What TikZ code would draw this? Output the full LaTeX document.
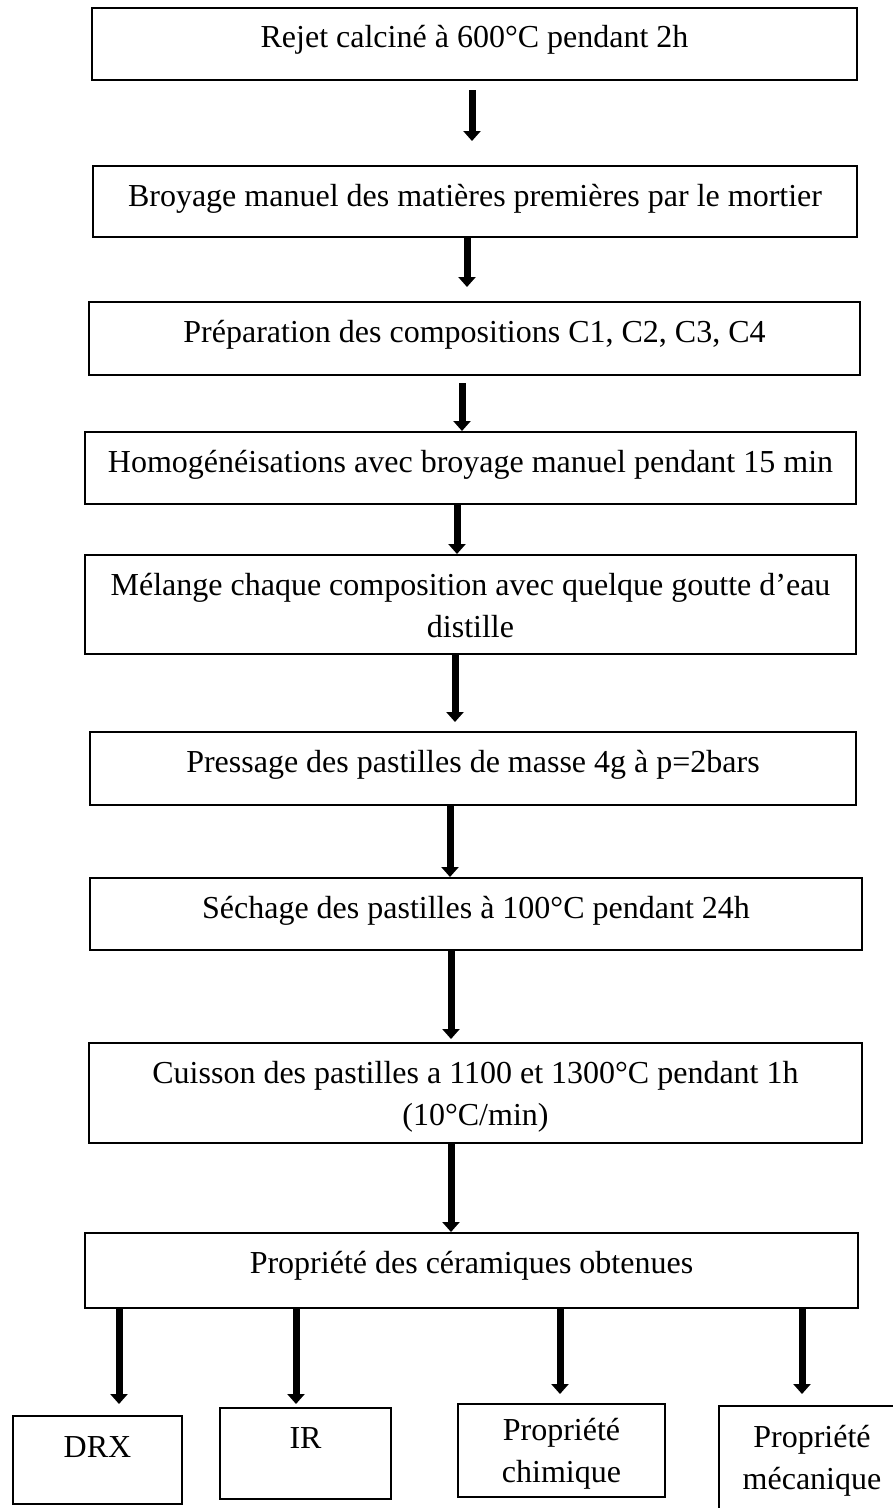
\documentclass[tikz,border=0pt]{standalone}
\usepackage{fontspec}
\setmainfont{Liberation Serif}
\usetikzlibrary{arrows.meta}
% two centred lines, baseline on the first one
\newcommand{\steplines}[2]{\begin{tabular}[t]{@{}c@{}}#1\\#2\end{tabular}}
\begin{document}
\begin{tikzpicture}[x=1pt,y=-1pt,
  stepbox/.style={draw, line width=2pt, inner sep=0pt, anchor=base,
    font=\fontsize{32}{42}\selectfont},
  flow/.style={line width=7pt, -{Triangle[width=17pt,length=10pt]}}]
\clip (0,0) rectangle (893,1508);

% process steps (anchored on the first baseline)
\node[stepbox, minimum width=765pt, text height=39pt, text depth=33pt] (b1) at (474.5,47)
  {Rejet calciné à 600°C pendant 2h};
\node[stepbox, minimum width=764pt, text height=40pt, text depth=31pt] (b2) at (475,206)
  {Broyage manuel des matières premières par le mortier};
\node[stepbox, minimum width=771pt, text height=40pt, text depth=33pt] (b3) at (474.5,342)
  {Préparation des compositions C1, C2, C3, C4};
\node[stepbox, minimum width=771pt, text height=40pt, text depth=32pt] (b4) at (470.5,472)
  {Homogénéisations avec broyage manuel pendant 15 min};
\node[stepbox, minimum width=771pt, text height=40pt, text depth=59pt] (b5) at (470.5,595)
  {\steplines{Mélange chaque composition avec quelque goutte d’eau}{distille}};
\node[stepbox, minimum width=766pt, text height=40pt, text depth=33pt] (b6) at (473,772)
  {Pressage des pastilles de masse 4g à p=2bars};
\node[stepbox, minimum width=772pt, text height=40pt, text depth=32pt] (b7) at (476,918)
  {Séchage des pastilles à 100°C pendant 24h};
\node[stepbox, minimum width=773pt, text height=40pt, text depth=60pt] (b8) at (475.5,1083)
  {\steplines{Cuisson des pastilles a 1100 et 1300°C pendant 1h}{(10°C/min)}};
\node[stepbox, minimum width=773pt, text height=40pt, text depth=35pt] (b9) at (471.5,1273)
  {Propriété des céramiques obtenues};

% characterisation boxes
\node[stepbox, minimum width=169pt, text height=41pt, text depth=47pt] (c1) at (97.5,1457)
  {DRX};
\node[stepbox, minimum width=171pt, text height=40pt, text depth=51pt] (c2) at (305.5,1448)
  {IR};
\node[stepbox, minimum width=207pt, text height=36pt, text depth=57pt] (c3) at (561.5,1440)
  {\steplines{Propriété}{chimique}};
\node[stepbox, minimum width=186pt, text height=41pt, text depth=65pt] (c4) at (812,1447)
  {\steplines{Propriété}{mécanique}};

% arrow columns
\coordinate (x1) at (472,0);
\coordinate (x2) at (467,0);
\coordinate (x3) at (462,0);
\coordinate (x4) at (457,0);
\coordinate (x5) at (455,0);
\coordinate (x6) at (450,0);
\coordinate (x7) at (451,0);
\coordinate (x8) at (451,0);
\coordinate (d1) at (119,0);
\coordinate (d2) at (296,0);
\coordinate (d3) at (560,0);
\coordinate (d4) at (802,0);

\draw[flow, shorten <=9pt, shorten >=24pt] (b1.south -| x1) -- (b2.north -| x1);
\draw[flow, shorten >=14pt] (b2.south -| x2) -- (b3.north -| x2);
\draw[flow, shorten <=7pt] (b3.south -| x3) -- (b4.north -| x3);
\draw[flow] (b4.south -| x4) -- (b5.north -| x4);
\draw[flow, shorten >=9pt] (b5.south -| x5) -- (b6.north -| x5);
\draw[flow] (b6.south -| x6) -- (b7.north -| x6);
\draw[flow, shorten >=3pt] (b7.south -| x7) -- (b8.north -| x7);
\draw[flow] (b8.south -| x8) -- (b9.north -| x8);

\draw[flow, shorten >=11pt] (b9.south -| d1) -- (c1.north -| d1);
\draw[flow, shorten >=3pt] (b9.south -| d2) -- (c2.north -| d2);
\draw[flow, shorten >=9pt] (b9.south -| d3) -- (c3.north -| d3);
\draw[flow, shorten >=11pt] (b9.south -| d4) -- (c4.north -| d4);
\end{tikzpicture}
\end{document}
